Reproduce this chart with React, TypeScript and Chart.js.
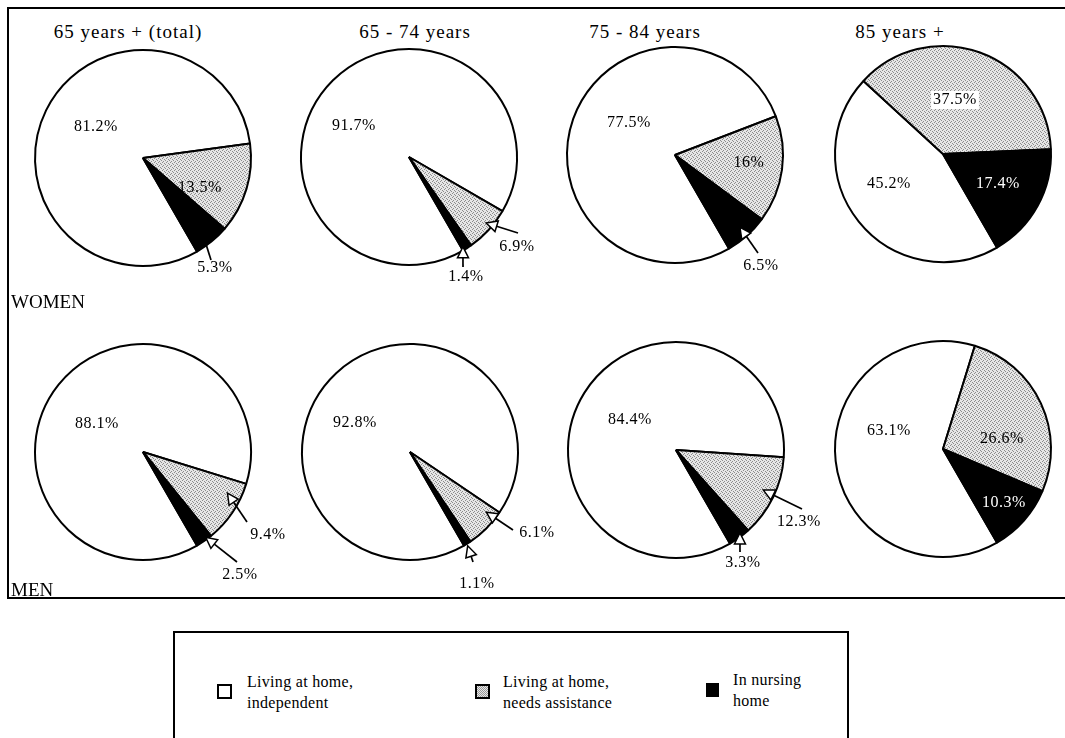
import React, { useEffect, useRef } from "react";
import { Chart, registerables } from "chart.js";

Chart.register(...registerables);

// ---------- data ----------
const categories = [
  "Living at home, independent",
  "Living at home, needs assistance",
  "In nursing home",
];
const ageGroups = ["65 years + (total)", "65 - 74 years", "75 - 84 years", "85 years +"];
const rowLabels = ["WOMEN", "MEN"];

const womenIndependent = [81.2, 91.7, 77.5, 45.2];
const womenAssistance = [13.5, 6.9, 16, 37.5];
const womenNursing = [5.3, 1.4, 6.5, 17.4];

const menIndependent = [88.1, 92.8, 84.4, 63.1];
const menAssistance = [9.4, 6.1, 12.3, 26.6];
const menNursing = [2.5, 1.1, 3.3, 10.3];

// ---------- layout (positions / styles only) ----------
const FONT = '"Liberation Serif", "Times New Roman", serif';
const PIE_R = 108;
const CANVAS = 300;
const colCentersW = [143, 409, 675, 943];
const colCentersM = [143, 410, 676, 943];
const rowCentersW = [158, 157, 155, 154];
const rowCentersM = [452, 452, 450, 449];
const titleCenters = [128, 415, 645, 900];

type Arrow = { t: number; rf: number; tx: number; ty: number; head: boolean };
type LabelSpec = { dx: number; dy: number; color?: string; bg?: boolean; arrow?: Arrow };

const womenLabelLayout: LabelSpec[][] = [
  [
    { dx: -47, dy: -31 },
    { dx: 57, dy: 30 },
    { dx: 72, dy: 110, arrow: { t: 0.6, rf: 0.92, tx: 68, ty: 102, head: false } },
  ],
  [
    { dx: -55, dy: -31 },
    { dx: 108, dy: 90, arrow: { t: 0.42, rf: 0.94, tx: 109, ty: 76, head: true } },
    { dx: 57, dy: 120, arrow: { t: 0.8, rf: 0.97, tx: 54, ty: 110, head: true } },
  ],
  [
    { dx: -46, dy: -32 },
    { dx: 74, dy: 8 },
    { dx: 86, dy: 111, arrow: { t: 0.49, rf: 0.9, tx: 83, ty: 98, head: true } },
  ],
  [
    { dx: -54, dy: 30 },
    { dx: 12, dy: -54, bg: true },
    { dx: 55, dy: 30, color: "#ffffff" },
  ],
];

const menLabelLayout: LabelSpec[][] = [
  [
    { dx: -46, dy: -28 },
    { dx: 125, dy: 83, arrow: { t: 0.26, rf: 0.87, tx: 104, ty: 70, head: true } },
    { dx: 97, dy: 123, arrow: { t: 0.3, rf: 0.98, tx: 94, ty: 110, head: true } },
  ],
  [
    { dx: -55, dy: -29 },
    { dx: 127, dy: 81, arrow: { t: 0.19, rf: 0.9, tx: 103, ty: 78, head: true } },
    { dx: 67, dy: 132, arrow: { t: 0.6, rf: 1.02, tx: 63, ty: 110, head: true } },
  ],
  [
    { dx: -46, dy: -30 },
    { dx: 123, dy: 72, arrow: { t: 0.47, rf: 0.89, tx: 126, ty: 59, head: true } },
    { dx: 67, dy: 113, arrow: { t: 0.36, rf: 0.97, tx: 64, ty: 102, head: true } },
  ],
  [
    { dx: -54, dy: -18 },
    { dx: 59, dy: -10 },
    { dx: 61, dy: 54, color: "#ffffff" },
  ],
];

// ---------- helpers ----------
function makeGrayPattern(): CanvasPattern | string {
  const c = document.createElement("canvas");
  c.width = 4;
  c.height = 4;
  const g = c.getContext("2d");
  if (!g) return "#cfcfcf";
  g.fillStyle = "#e6e6e6";
  g.fillRect(0, 0, 4, 4);
  g.fillStyle = "#8c8c8c";
  [
    [0, 0],
    [2, 1],
    [1, 2],
    [3, 3],
  ].forEach(([x, y]) => g.fillRect(x, y, 1, 1));
  const p = g.createPattern(c, "repeat");
  return p || "#cfcfcf";
}

function drawArrow(
  ctx: CanvasRenderingContext2D,
  x1: number,
  y1: number,
  x2: number,
  y2: number,
  head: boolean
) {
  const ang = Math.atan2(y2 - y1, x2 - x1);
  const L = 11;
  const W = 5.5;
  const bx = x2 - L * Math.cos(ang);
  const by = y2 - L * Math.sin(ang);
  ctx.save();
  ctx.strokeStyle = "#000";
  ctx.lineWidth = 1.7;
  ctx.beginPath();
  ctx.moveTo(x1, y1);
  ctx.lineTo(head ? bx : x2, head ? by : y2);
  ctx.stroke();
  if (head) {
    const s = Math.sin(ang);
    const c = Math.cos(ang);
    ctx.beginPath();
    ctx.moveTo(x2, y2);
    ctx.lineTo(bx + W * s, by - W * c);
    ctx.lineTo(bx - W * s, by + W * c);
    ctx.closePath();
    ctx.fillStyle = "#fff";
    ctx.fill();
    ctx.lineWidth = 1.5;
    ctx.stroke();
  }
  ctx.restore();
}

const labelPlugin = {
  id: "sliceLabels",
  afterDatasetsDraw(chart: any) {
    const ctx: CanvasRenderingContext2D = chart.ctx;
    const meta = chart.getDatasetMeta(0);
    const layout: LabelSpec[] = chart.options.plugins.sliceLabels.layout;
    const values: number[] = chart.data.datasets[0].data;
    meta.data.forEach((arc: any, i: number) => {
      const spec = layout[i];
      if (!spec) return;
      const p = arc.getProps(["x", "y", "startAngle", "endAngle", "outerRadius"], true);
      const cx = p.x;
      const cy = p.y;
      const text = `${values[i]}%`;
      ctx.save();
      ctx.font = `16px ${FONT}`;
      (ctx as any).letterSpacing = "0.5px";
      ctx.textAlign = "center";
      ctx.textBaseline = "middle";
      const tx = cx + spec.dx;
      const ty = cy + spec.dy;
      if (spec.bg) {
        const w = ctx.measureText(text).width;
        ctx.fillStyle = "#fff";
        ctx.fillRect(tx - w / 2 - 2, ty - 9, w + 4, 18);
      }
      ctx.fillStyle = spec.color || "#000";
      ctx.fillText(text, tx, ty);
      ctx.restore();
      if (spec.arrow) {
        const a = spec.arrow;
        const ang = p.startAngle + a.t * (p.endAngle - p.startAngle);
        const r = a.rf * p.outerRadius;
        drawArrow(ctx, cx + a.tx, cy + a.ty, cx + r * Math.cos(ang), cy + r * Math.sin(ang), a.head);
      }
    });
  },
};

// ---------- components ----------
function Pie(props: { values: number[]; layout: LabelSpec[]; cx: number; cy: number }) {
  const ref = useRef<HTMLCanvasElement | null>(null);
  useEffect(() => {
    if (!ref.current) return;
    const gray = makeGrayPattern();
    const chart = new Chart(ref.current, {
      type: "pie",
      data: {
        labels: categories,
        datasets: [
          {
            data: props.values,
            backgroundColor: ["#ffffff", gray as any, "#000000"],
            borderColor: "#000000",
            borderWidth: 2,
            radius: PIE_R,
          } as any,
        ],
      },
      options: {
        responsive: false,
        animation: false,
        rotation: 150,
        events: [],
        layout: { padding: 0 },
        plugins: {
          legend: { display: false },
          tooltip: { enabled: false },
          title: { display: false },
          sliceLabels: { layout: props.layout },
        } as any,
      },
      plugins: [labelPlugin],
    });
    return () => chart.destroy();
  }, []);
  return (
    <canvas
      ref={ref}
      width={CANVAS}
      height={CANVAS}
      style={{
        position: "absolute",
        left: props.cx - CANVAS / 2,
        top: props.cy - CANVAS / 2,
        width: CANVAS,
        height: CANVAS,
      }}
    />
  );
}

const textBase: React.CSSProperties = {
  position: "absolute",
  fontFamily: FONT,
  color: "#000",
  whiteSpace: "nowrap",
};

const line = (left: number, top: number, width: number, height: number): React.CSSProperties => ({
  position: "absolute",
  left,
  top,
  width,
  height,
  background: "#000",
});

export default function App() {
  const womenSeries = ageGroups.map((_, i) => [womenIndependent[i], womenAssistance[i], womenNursing[i]]);
  const menSeries = ageGroups.map((_, i) => [menIndependent[i], menAssistance[i], menNursing[i]]);
  return (
    <div
      style={{
        position: "absolute",
        left: 0,
        top: 0,
        width: 1065,
        height: 738,
        overflow: "hidden",
        background: "#fff",
      }}
    >
      {/* outer frame: top, left and bottom edges only */}
      <div style={line(7, 7, 1058, 2)} />
      <div style={line(7, 7, 2, 592)} />
      <div style={line(7, 597, 1058, 2)} />
      {ageGroups.map((g, i) => (
        <div
          key={g}
          style={{
            ...textBase,
            left: titleCenters[i],
            top: 22,
            transform: "translateX(-50%)",
            fontSize: 19,
            lineHeight: "20px",
            letterSpacing: "1px",
          }}
        >
          {g}
        </div>
      ))}
      {womenSeries.map((v, i) => (
        <Pie key={"w" + i} values={v} layout={womenLabelLayout[i]} cx={colCentersW[i]} cy={rowCentersW[i]} />
      ))}
      {menSeries.map((v, i) => (
        <Pie key={"m" + i} values={v} layout={menLabelLayout[i]} cx={colCentersM[i]} cy={rowCentersM[i]} />
      ))}
      <div style={{ ...textBase, left: 11, top: 292, fontSize: 19, lineHeight: "20px" }}>{rowLabels[0]}</div>
      <div style={{ ...textBase, left: 11, top: 580, fontSize: 19, lineHeight: "20px" }}>{rowLabels[1]}</div>

      {/* legend */}
      <div
        style={{
          position: "absolute",
          left: 173,
          top: 631,
          width: 672,
          height: 200,
          border: "2px solid #000",
        }}
      />
      <div
        style={{
          position: "absolute",
          left: 217,
          top: 684,
          width: 11,
          height: 11,
          border: "2px solid #000",
          background: "#fff",
        }}
      />
      <div
        style={{
          position: "absolute",
          left: 475,
          top: 684,
          width: 11,
          height: 11,
          border: "2px solid #000",
          background: "repeating-conic-gradient(#9a9a9a 0 25%, #e8e8e8 0 50%) 0 0/2px 2px",
        }}
      />
      <div
        style={{
          position: "absolute",
          left: 706,
          top: 683,
          width: 13,
          height: 14,
          background: "#000",
        }}
      />
      {[
        { left: 247, top: 671, text: ["Living at home,", "independent"] },
        { left: 503, top: 671, text: ["Living at home,", "needs assistance"] },
        { left: 733, top: 669, text: ["In nursing", "home"] },
      ].map((l, i) => (
        <div
          key={categories[i]}
          title={categories[i]}
          style={{ ...textBase, left: l.left, top: l.top, fontSize: 16, lineHeight: "21px", letterSpacing: "0.3px" }}
        >
          {l.text[0]}
          <br />
          {l.text[1]}
        </div>
      ))}
    </div>
  );
}
